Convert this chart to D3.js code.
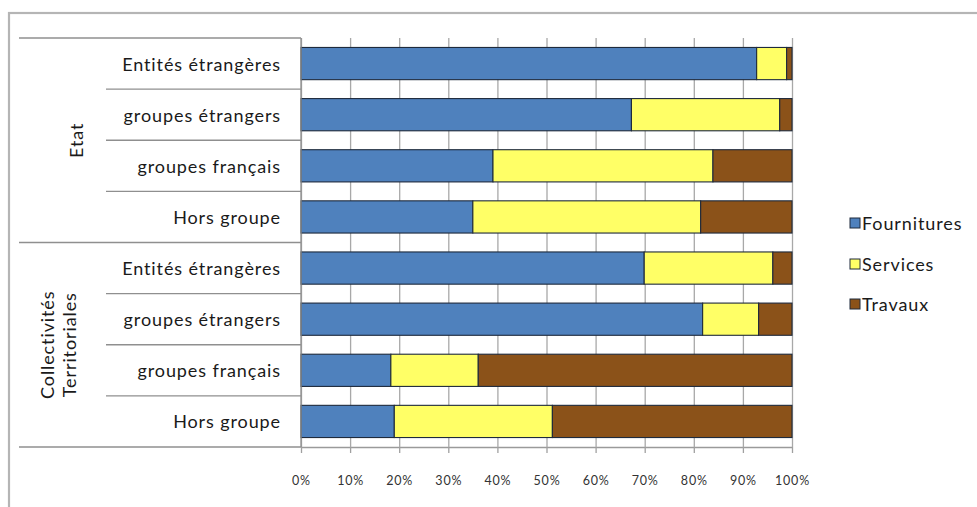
<!DOCTYPE html>
<html>
<head>
<meta charset="utf-8">
<script src="https://cdn.jsdelivr.net/npm/d3@7/dist/d3.min.js"></script>
<style>
  html, body { margin: 0; padding: 0; background: #ffffff; }
  svg { display: block; }
  text { font-family: Lato, "Noto Sans", sans-serif; fill: #1a1a1a; }
</style>
</head>
<body>
<svg id="chart" width="977" height="507"></svg>
<script>
// Répartition des achats par type de marché (en % du montant)
const groups = ["Etat", "Collectivités Territoriales"];
const categories = ["Entités étrangères", "groupes étrangers", "groupes français", "Hors groupe"];
const seriesNames = ["Fournitures", "Services", "Travaux"];
const colors = ["#4f81bd", "#ffff66", "#8b5219"];

// Parts (en %) pour chaque ligne, dans l'ordre : Etat puis Collectivités
const fournitures = [92.8, 67.3, 39.1, 35.0, 69.9, 81.8, 18.3, 19.0];
const services    = [ 6.1, 30.2, 44.8, 46.4, 26.2, 11.4, 17.8, 32.2];
const travaux     = [ 1.1,  2.5, 16.1, 18.6,  3.9,  6.8, 63.9, 48.8];
const xTicks = [0, 10, 20, 30, 40, 50, 60, 70, 80, 90, 100];

const rows = [];
groups.forEach((g, gi) => categories.forEach((c, ci) => {
  const i = gi * categories.length + ci;
  rows.push({ id: i, group: g, category: c,
    Fournitures: fournitures[i], Services: services[i], Travaux: travaux[i] });
}));

const svg = d3.select("#chart");
const W = 977, H = 507;
const labelFont = "18px";
const labelSpacing = "0.9px";

// Cadre extérieur
svg.append("rect")
  .attr("x", 9).attr("y", 13).attr("width", W + 20).attr("height", H + 20)
  .attr("fill", "#fff").attr("stroke", "#b5b5b5").attr("stroke-width", 2.2);

const plot = { left: 301, right: 792, top: 38, bottom: 447 };

const x = d3.scaleLinear().domain([0, 100]).range([plot.left, plot.right]);
const y = d3.scaleBand().domain(rows.map(d => d.id))
  .range([plot.top, plot.bottom]).paddingInner(0.37).paddingOuter(0.185);
const yRow = d3.scaleBand().domain(rows.map(d => d.id)).range([plot.top, plot.bottom]);

// Quadrillage vertical + axe des abscisses
const xAxis = d3.axisBottom(x).tickValues(xTicks).tickFormat(d => d + "%")
  .tickSizeInner(-(plot.bottom - plot.top)).tickSizeOuter(0).tickPadding(0);
const gx = svg.append("g").attr("transform", `translate(0,${plot.bottom})`).call(xAxis);
gx.select(".domain").attr("stroke", "#9a9a9a").attr("stroke-width", 1.3);
gx.selectAll(".tick line").attr("stroke", "#a8a8a8").attr("stroke-width", 1.3);
gx.selectAll(".tick").append("line")
  .attr("y1", 0).attr("y2", 6).attr("stroke", "#a0a0a0").attr("stroke-width", 1.3);
gx.selectAll(".tick text").attr("y", 38).attr("dy", 0)
  .style("font-size", "12.5px").style("fill", "#333").style("letter-spacing", "0.8px");

// Barres empilées
const stack = d3.stack().keys(seriesNames);
const layers = stack(rows);
svg.append("g").selectAll("g").data(layers).join("g")
  .attr("fill", (d, i) => colors[i])
  .selectAll("rect").data(d => d).join("rect")
  .attr("x", d => x(d[0]))
  .attr("y", d => y(d.data.id))
  .attr("width", d => x(d[1]) - x(d[0]))
  .attr("height", y.bandwidth())
  .attr("stroke", "#1e2a3c").attr("stroke-width", 1.1);

// Axe des catégories (libellés à deux niveaux)
const axisColor = "#8f8f8f";
const cat = svg.append("g");
cat.append("line").attr("x1", plot.left).attr("x2", plot.left)
  .attr("y1", plot.top).attr("y2", plot.bottom).attr("stroke", axisColor).attr("stroke-width", 1.3);
rows.forEach((r, i) => {
  const yTop = yRow(r.id);
  const isGroupStart = i % categories.length === 0;
  cat.append("line")
    .attr("x1", isGroupStart ? 19 : 106).attr("x2", plot.left)
    .attr("y1", yTop).attr("y2", yTop)
    .attr("stroke", axisColor).attr("stroke-width", 1.3);
  cat.append("text")
    .attr("x", 281).attr("y", yTop + yRow.bandwidth() / 2)
    .attr("text-anchor", "end").attr("dominant-baseline", "central")
    .style("font-size", labelFont).style("letter-spacing", labelSpacing)
    .text(r.category);
});
cat.append("line").attr("x1", 19).attr("x2", plot.left)
  .attr("y1", plot.bottom).attr("y2", plot.bottom)
  .attr("stroke", axisColor).attr("stroke-width", 1.3);

// Libellés de groupe, verticaux
const groupLines = [["Etat"], ["Collectivités", "Territoriales"]];
groupLines.forEach((lines, gi) => {
  const first = yRow(gi * categories.length);
  const last = yRow(gi * categories.length + categories.length - 1) + yRow.bandwidth();
  const cy = (first + last) / 2;
  const cx = 64;
  const lh = 22;
  lines.forEach((t, li) => {
    const off = (li - (lines.length - 1) / 2) * lh;
    svg.append("text")
      .attr("transform", `translate(${cx + off + (lines.length === 1 ? 12 : -6)},${cy}) rotate(-90)`)
      .attr("text-anchor", "middle").attr("dominant-baseline", "central")
      .style("font-size", labelFont).style("letter-spacing", labelSpacing)
      .text(t);
  });
});

// Légende
const legendY = [223, 264, 304];
const legend = svg.append("g");
seriesNames.forEach((s, i) => {
  legend.append("rect")
    .attr("x", 850).attr("y", legendY[i] - 5).attr("width", 10).attr("height", 10)
    .attr("fill", colors[i]).attr("stroke", "#1e2a3c").attr("stroke-width", 1);
  legend.append("text")
    .attr("x", 862).attr("y", legendY[i])
    .attr("dominant-baseline", "central")
    .style("font-size", labelFont).style("letter-spacing", labelSpacing)
    .text(s);
});
</script>
</body>
</html>
